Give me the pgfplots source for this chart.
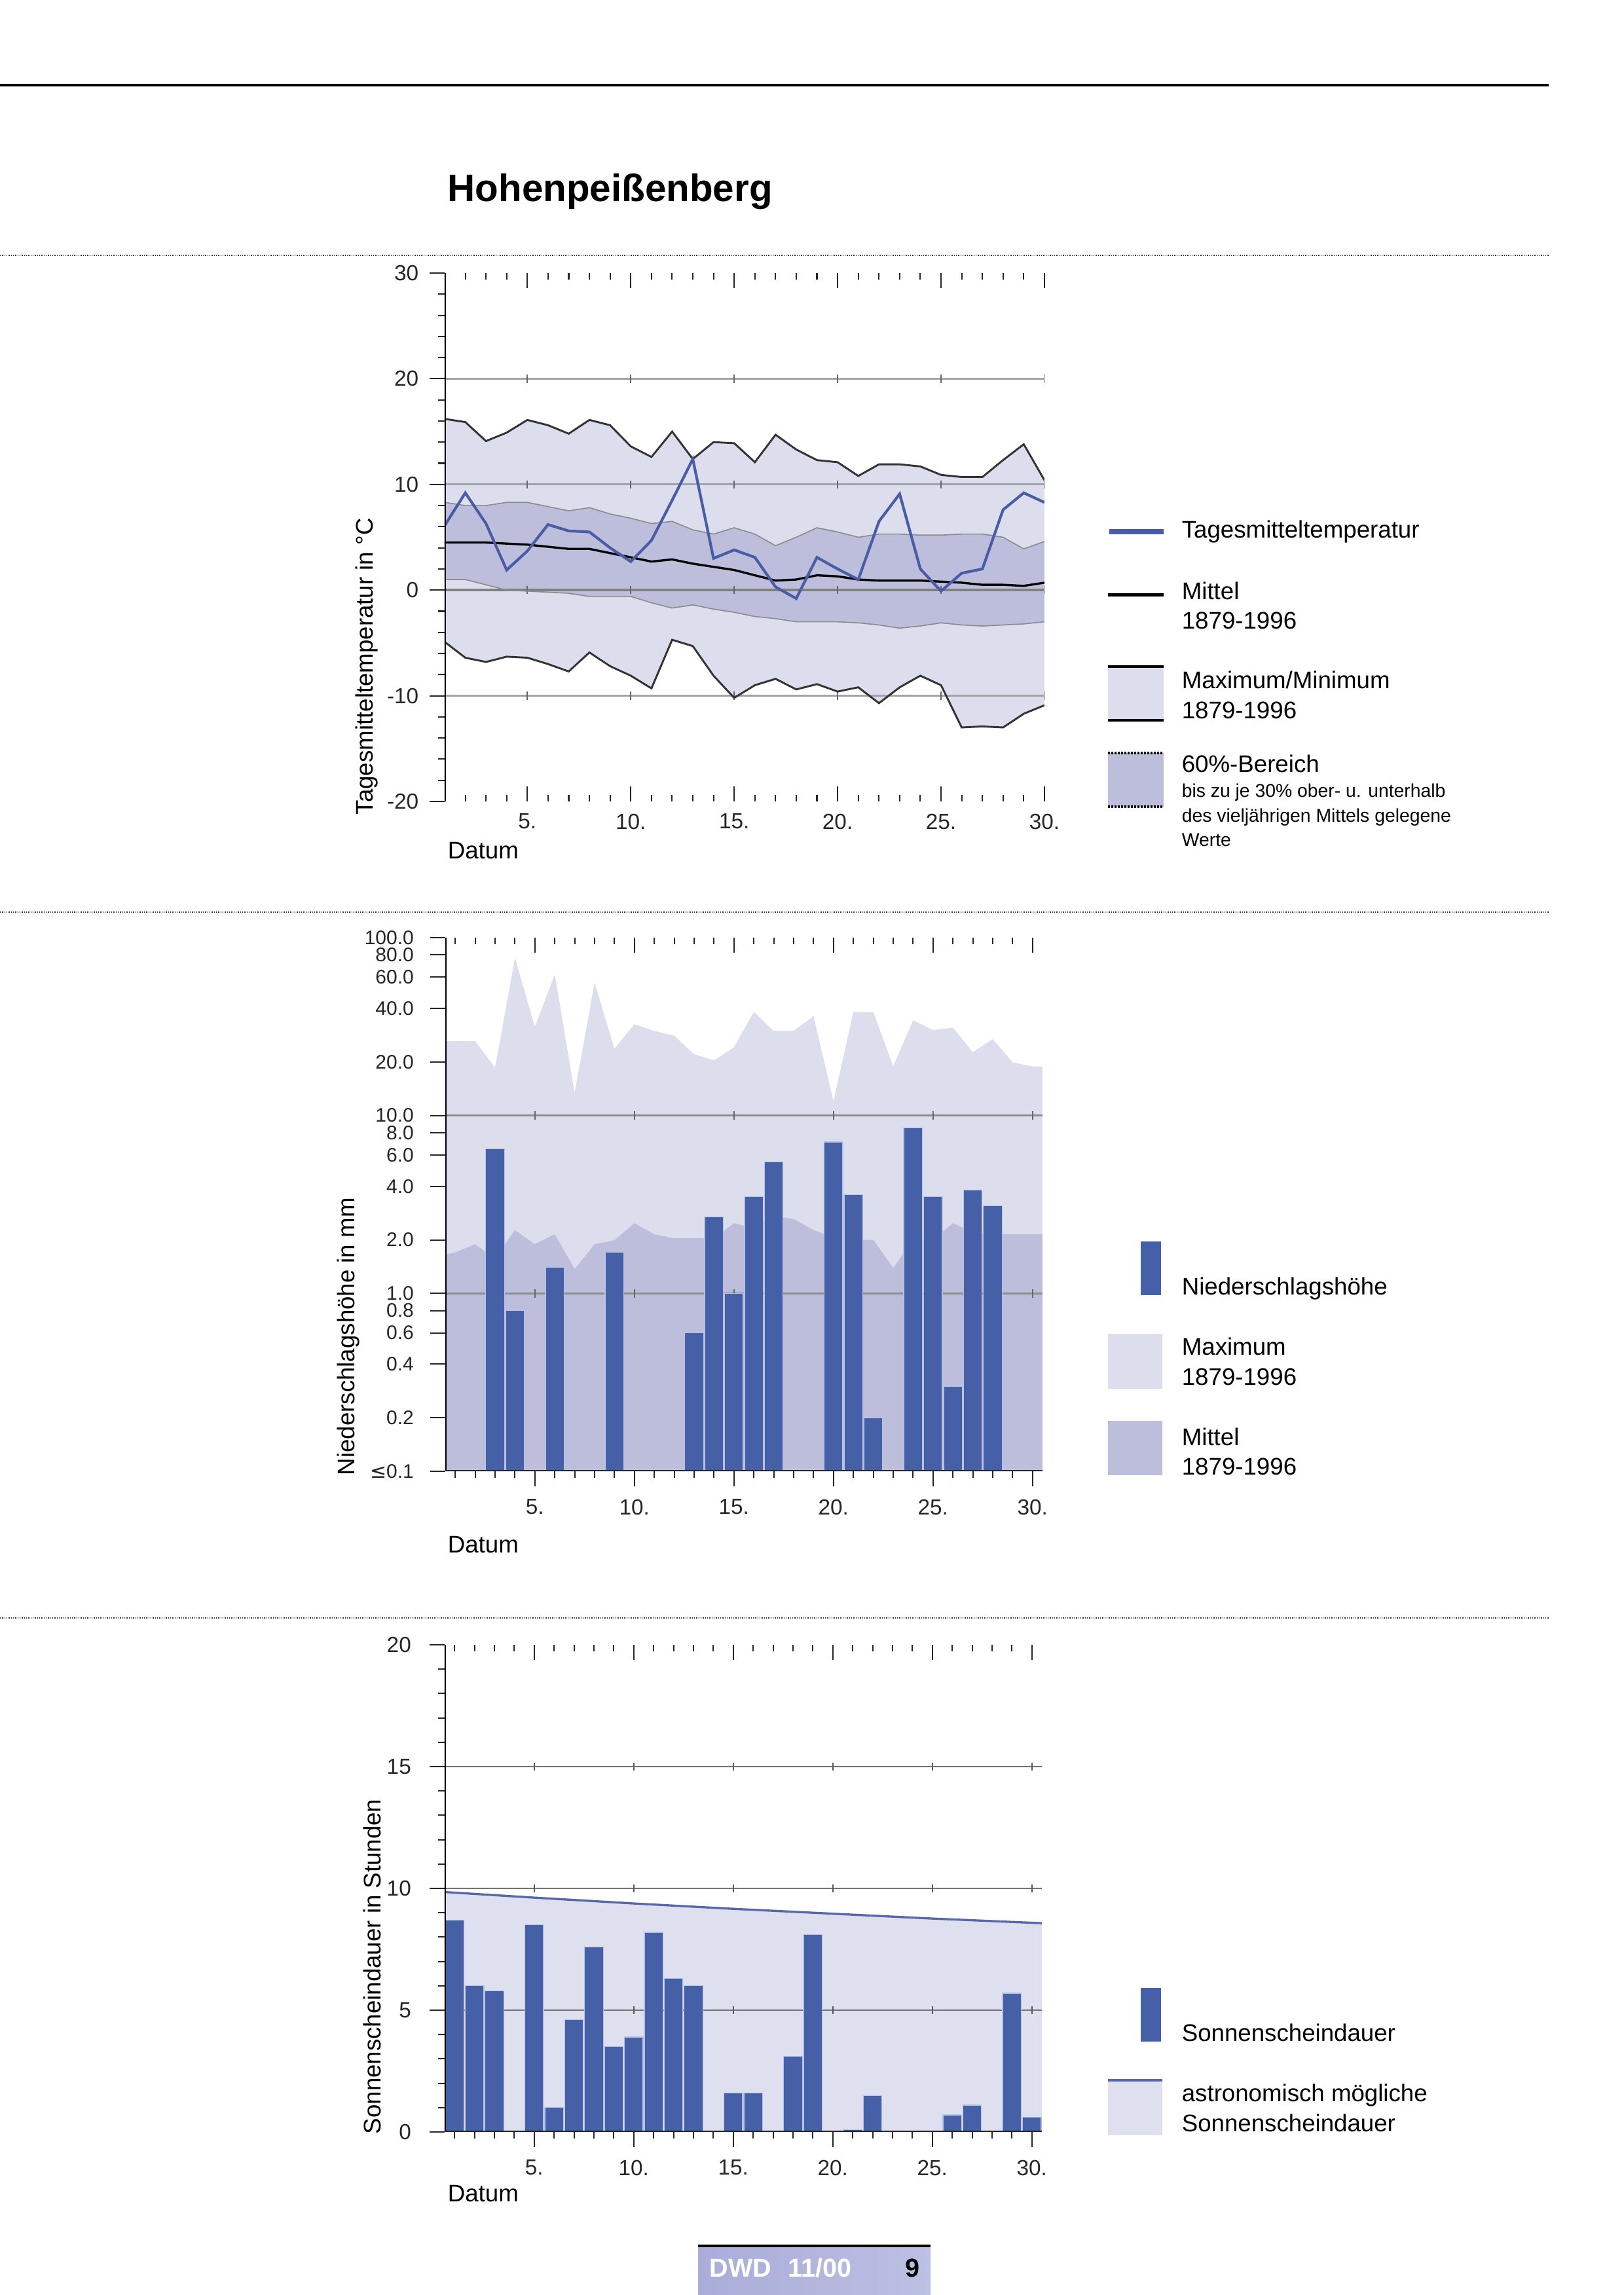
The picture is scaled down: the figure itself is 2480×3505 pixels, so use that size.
\documentclass[border=0pt]{standalone}
\usepackage{pgfplots}
\pgfplotsset{compat=1.18}
\usepackage{pgfplotstable}
\usepackage{fontspec}
\setmainfont{Liberation Sans}
\newfontfamily\dejavu{DejaVu Sans}

\definecolor{lavMax}{HTML}{DCDDED}
\definecolor{band}{HTML}{BCBEDB}
\definecolor{barcol}{HTML}{4560A6}
\definecolor{baredge}{HTML}{B8C2E6}
\definecolor{tline}{HTML}{4A5CA6}
\definecolor{sunarea}{HTML}{DFE0EF}
\definecolor{sunline}{HTML}{5866AC}
\definecolor{gridc}{HTML}{A2A2AA}
\definecolor{footL}{HTML}{A9ADD8}
\definecolor{footM}{HTML}{9297C9}
\definecolor{footR}{HTML}{BCC0E3}

\pgfplotstableread{
day max min up lo mean tm
1 16.2 -4.9 8.3 1.0 4.5 6.1
2 15.9 -6.4 8.0 1.0 4.5 9.2
3 14.1 -6.8 8.0 0.5 4.5 6.3
4 14.9 -6.3 8.3 0.0 4.4 1.9
5 16.1 -6.4 8.3 -0.1 4.3 3.7
6 15.6 -7.0 7.9 -0.2 4.1 6.2
7 14.8 -7.7 7.5 -0.3 3.9 5.6
8 16.1 -5.9 7.8 -0.6 3.9 5.5
9 15.6 -7.2 7.2 -0.6 3.5 4.0
10 13.6 -8.1 6.8 -0.6 3.1 2.7
11 12.6 -9.3 6.3 -1.2 2.7 4.7
12 15.0 -4.7 6.5 -1.7 2.9 8.5
13 12.4 -5.3 5.7 -1.4 2.5 12.4
14 14.0 -8.1 5.3 -1.8 2.2 3.0
15 13.9 -10.2 5.9 -2.1 1.9 3.8
16 12.1 -9.0 5.3 -2.5 1.4 3.1
17 14.7 -8.4 4.2 -2.7 0.9 0.3
18 13.3 -9.4 5.0 -3.0 1.0 -0.8
19 12.3 -8.9 5.9 -3.0 1.4 3.1
20 12.1 -9.6 5.5 -3.0 1.3 2.0
21 10.8 -9.2 5.0 -3.1 1.0 1.0
22 11.9 -10.7 5.3 -3.3 0.9 6.5
23 11.9 -9.2 5.3 -3.6 0.9 9.1
24 11.7 -8.1 5.2 -3.4 0.9 2.0
25 10.9 -9.0 5.2 -3.1 0.8 -0.1
26 10.7 -13.0 5.3 -3.3 0.7 1.6
27 10.7 -12.9 5.3 -3.4 0.5 2.0
28 12.3 -13.0 5.0 -3.3 0.5 7.6
29 13.8 -11.7 3.9 -3.2 0.4 9.2
30 10.4 -10.9 4.6 -3.0 0.7 8.3
}\temptab

% outline of the maximum/minimum band: maximum forwards, minimum backwards
\pgfplotstableread{
day v
1 16.2
2 15.9
3 14.1
4 14.9
5 16.1
6 15.6
7 14.8
8 16.1
9 15.6
10 13.6
11 12.6
12 15.0
13 12.4
14 14.0
15 13.9
16 12.1
17 14.7
18 13.3
19 12.3
20 12.1
21 10.8
22 11.9
23 11.9
24 11.7
25 10.9
26 10.7
27 10.7
28 12.3
29 13.8
30 10.4
30 -10.9
29 -11.7
28 -13.0
27 -12.9
26 -13.0
25 -9.0
24 -8.1
23 -9.2
22 -10.7
21 -9.2
20 -9.6
19 -8.9
18 -9.4
17 -8.4
16 -9.0
15 -10.2
14 -8.1
13 -5.3
12 -4.7
11 -9.3
10 -8.1
9 -7.2
8 -5.9
7 -7.7
6 -7.0
5 -6.4
4 -6.3
3 -6.8
2 -6.4
1 -4.9
}\tout

% outline of the 60% band: upper forwards, lower backwards
\pgfplotstableread{
day v
1 8.3
2 8.0
3 8.0
4 8.3
5 8.3
6 7.9
7 7.5
8 7.8
9 7.2
10 6.8
11 6.3
12 6.5
13 5.7
14 5.3
15 5.9
16 5.3
17 4.2
18 5.0
19 5.9
20 5.5
21 5.0
22 5.3
23 5.3
24 5.2
25 5.2
26 5.3
27 5.3
28 5.0
29 3.9
30 4.6
30 -3.0
29 -3.2
28 -3.3
27 -3.4
26 -3.3
25 -3.1
24 -3.4
23 -3.6
22 -3.3
21 -3.1
20 -3.0
19 -3.0
18 -3.0
17 -2.7
16 -2.5
15 -2.1
14 -1.8
13 -1.4
12 -1.7
11 -1.2
10 -0.6
9 -0.6
8 -0.6
7 -0.3
6 -0.2
5 -0.1
4 0.0
3 0.5
2 1.0
1 1.0
}\tin

\pgfplotstableread{
day v
0.5 26.2
1 26.2
2 26.2
3 18.6
4 76.8
5 31.5
6 62.1
7 13.4
8 55.9
9 23.7
10 32.6
11 29.9
12 28.1
13 22.1
14 20.4
15 24.2
16 38.2
17 29.9
18 29.9
19 36.2
20 12.0
21 38.2
22 38.2
23 18.9
24 34.3
25 30.2
26 31.2
27 22.7
28 26.9
29 19.9
30 18.9
30.5 18.9
30.5 0.1
0.5 0.1
}\pmax

\pgfplotstableread{
day v
0.5 1.65
1 1.70
2 1.89
3 1.57
4 2.27
5 1.89
6 2.15
7 1.37
8 1.89
9 1.99
10 2.48
11 2.15
12 2.04
13 2.04
14 2.04
15 2.48
16 2.33
17 2.73
18 2.62
19 2.27
20 2.05
21 2.00
22 2.00
23 1.39
24 1.99
25 1.99
26 2.48
27 2.21
28 2.15
29 2.15
30 2.15
30.5 2.15
30.5 0.1
0.5 0.1
}\pmit

\pgfplotstableread{
day v
1 8.7
2 6.0
3 5.8
5 8.5
6 1.0
7 4.6
8 7.6
9 3.5
10 3.9
11 8.2
12 6.3
13 6.0
15 1.6
16 1.6
18 3.1
19 8.1
21 0.1
22 1.5
26 0.7
27 1.1
29 5.7
30 0.6
}\sbars

\pgfplotstableread{
day v
0.5 9.85
5 9.62
10 9.38
15 9.16
20 8.96
25 8.76
30.5 8.57
}\astro

\pgfplotsset{
  dwd/.style={
    scale only axis,
    axis line style={draw=none},
    tick style={black!85, line width=0.5pt},
    major tick length=5.5pt, minor tick length=2.5pt,
    ticklabel style={font=\fontsize{8}{9}\selectfont, text=black!85},
    ytick pos=left,
    y tick label style={xshift=-6pt},
  }
}

% one precipitation bar on the log axis: left edge, right edge, height in mm
\newcommand{\pbar}[3]{\addplot[fill=barcol, draw=baredge, line width=0.3pt, forget plot] coordinates {(#1,0.1) (#1,#3) (#2,#3) (#2,0.1)};}

\newcommand{\lfont}{\fontsize{8.8}{10.8}\selectfont}
\newcommand{\sfont}{\fontsize{6.8}{8.5}\selectfont}

\begin{document}
\begin{tikzpicture}[x=0.24pt, y=0.24pt]
\path[use as bounding box] (0,0) rectangle (2480,-3505);

% ---------------- Temperature ----------------
\begin{axis}[dwd,
  at={(162.96pt,-293.76pt)}, anchor=south west,
  width=219.84pt, height=193.68pt,
  xmin=1, xmax=30, ymin=-20, ymax=30,
  xtick={5,10,...,30}, xticklabels={5.,10.,15.,20.,25.,30.},
  minor xtick={2,...,29},
  ytick={-20,-10,...,30}, yticklabels={-20,-10,0,10,20,30},
  minor ytick={-18,-16,...,28},
  major y tick style={xshift=-5.5pt}, minor y tick style={xshift=-2.5pt},
  x tick label style={yshift=-1pt},
]
\addplot[fill=lavMax, draw=none] table[x=day,y=v]{\tout};
\addplot[fill=band, draw=none] table[x=day,y=v]{\tin};
\draw[gridc, line width=0.8pt] (axis cs:1,20) -- (axis cs:30,20);
\draw[gridc, line width=0.8pt] (axis cs:1,10) -- (axis cs:30,10);
\draw[black!50, line width=1pt] (axis cs:1,0) -- (axis cs:30,0);
\draw[gridc, line width=0.8pt] (axis cs:1,-10) -- (axis cs:30,-10);
\pgfplotsinvokeforeach{5,10,...,30}{
  \draw[black!60, line width=0.5pt] (axis cs:#1,20) ++(0pt,-1.5pt) -- ++(0pt,3pt);
  \draw[black!60, line width=0.5pt] (axis cs:#1,10) ++(0pt,-1.5pt) -- ++(0pt,3pt);
  \draw[black!60, line width=0.5pt] (axis cs:#1,0) ++(0pt,-1.5pt) -- ++(0pt,3pt);
  \draw[black!60, line width=0.5pt] (axis cs:#1,-10) ++(0pt,-1.5pt) -- ++(0pt,3pt);
}
\addplot[black!45, line width=0.4pt] table[x=day,y=up]{\temptab};
\addplot[black!45, line width=0.4pt] table[x=day,y=lo]{\temptab};
\addplot[black!80, line width=0.7pt] table[x=day,y=max]{\temptab};
\addplot[black!80, line width=0.7pt] table[x=day,y=min]{\temptab};
\addplot[black, line width=0.8pt] table[x=day,y=mean]{\temptab};
\addplot[tline, line width=1.0pt] table[x=day,y=tm]{\temptab};
\draw[black, line width=1pt] (axis cs:1,-20) -- (axis cs:1,30);
\end{axis}

% ---------------- Precipitation ----------------
\begin{axis}[dwd,
  at={(163.2pt,-539.28pt)}, anchor=south west,
  width=218.88pt, height=195.6pt,
  ymode=log,
  xmin=0.5, xmax=30.5, ymin=0.1, ymax=100,
  xtick={5,10,...,30}, xticklabels={5.,10.,15.,20.,25.,30.},
  minor xtick={1,...,30},
  ytick={0.1,0.2,0.4,0.6,0.8,1,2,4,6,8,10,20,40,60,80,100},
  yticklabels={{\dejavu ≤}0.1,0.2,0.4,0.6,0.8,1.0,2.0,4.0,6.0,8.0,10.0,20.0,40.0,60.0,80.0,100.0},
  y tick label style={font=\fontsize{7.2}{8}\selectfont, inner sep=0.2pt, xshift=-2.4pt},
  tick align=center,
  major x tick style={yshift=-2.75pt}, minor x tick style={yshift=-1.25pt},
  major y tick style={xshift=-2.75pt},
  x tick label style={yshift=-4pt},
]
\addplot[fill=lavMax, draw=none] table[x=day,y=v]{\pmax};
\addplot[fill=band, draw=none] table[x=day,y=v]{\pmit};
\draw[black!45, line width=0.8pt] (axis cs:0.5,10) -- (axis cs:30.5,10);
\draw[black!45, line width=0.8pt] (axis cs:0.5,1) -- (axis cs:30.5,1);
\pgfplotsinvokeforeach{5,10,...,30}{
  \draw[black!60, line width=0.5pt] (axis cs:#1,10) ++(0pt,-1.5pt) -- ++(0pt,3pt);
  \draw[black!60, line width=0.5pt] (axis cs:#1,1) ++(0pt,-1.5pt) -- ++(0pt,3pt);
}
\pbar{2.53}{3.47}{6.5}
\pbar{3.53}{4.47}{0.8}
\pbar{5.53}{6.47}{1.4}
\pbar{8.53}{9.47}{1.7}
\pbar{12.53}{13.47}{0.6}
\pbar{13.53}{14.47}{2.7}
\pbar{14.53}{15.47}{1.0}
\pbar{15.53}{16.47}{3.5}
\pbar{16.53}{17.47}{5.5}
\pbar{19.53}{20.47}{7.1}
\pbar{20.53}{21.47}{3.6}
\pbar{21.53}{22.47}{0.2}
\pbar{23.53}{24.47}{8.5}
\pbar{24.53}{25.47}{3.5}
\pbar{25.53}{26.47}{0.3}
\pbar{26.53}{27.47}{3.8}
\pbar{27.53}{28.47}{3.1}
\draw[black, line width=1pt] (axis cs:0.5,0.1) -- (axis cs:0.5,100);
\draw[black!85, line width=0.8pt] (axis cs:0.5,0.1) -- (axis cs:30.5,0.1);
\end{axis}

% ---------------- Sunshine ----------------
\begin{axis}[dwd,
  at={(162.96pt,-781.44pt)}, anchor=south west,
  width=218.88pt, height=178.56pt,
  xmin=0.5, xmax=30.5, ymin=0, ymax=20,
  xtick={5,10,...,30}, xticklabels={5.,10.,15.,20.,25.,30.},
  minor xtick={1,...,30},
  ytick={0,5,...,20}, yticklabels={0,5,10,15,20},
  minor ytick={1,...,19},
  tick align=center,
  major x tick style={yshift=-2.75pt}, minor x tick style={yshift=-1.25pt},
  major y tick style={xshift=-2.75pt}, minor y tick style={xshift=-1.25pt},
  x tick label style={yshift=-4pt},
]
\addplot[fill=sunarea, draw=none] table[x=day,y=v]{\astro} \closedcycle;
\draw[black!55, line width=0.7pt] (axis cs:0.5,15) -- (axis cs:30.5,15);
\draw[black!55, line width=0.7pt] (axis cs:0.5,10) -- (axis cs:30.5,10);
\draw[black!55, line width=0.7pt] (axis cs:0.5,5) -- (axis cs:30.5,5);
\pgfplotsinvokeforeach{5,10,...,30}{
  \draw[black!65, line width=0.5pt] (axis cs:#1,15) ++(0pt,-1.5pt) -- ++(0pt,3pt);
  \draw[black!65, line width=0.5pt] (axis cs:#1,10) ++(0pt,-1.5pt) -- ++(0pt,3pt);
  \draw[black!65, line width=0.5pt] (axis cs:#1,5) ++(0pt,-1.5pt) -- ++(0pt,3pt);
}
\addplot[sunline, line width=0.8pt] table[x=day,y=v]{\astro};
\addplot[ybar, bar width=0.94, fill=barcol, draw=baredge, line width=0.3pt] table[x=day,y=v]{\sbars};
\draw[black, line width=1pt] (axis cs:0.5,0) -- (axis cs:0.5,20);
\draw[black!85, line width=0.8pt] (axis cs:0.5,0) -- (axis cs:30.5,0);
\end{axis}

\begin{scope}[yscale=-1]
% page rules and title
\draw[line width=1pt] (0,130) -- (2365,130);
\foreach \yy in {390,1393,2471}
  \draw[black!80, line width=0.35pt, dash pattern=on 0.3pt off 0.5pt] (0,\yy) -- (2365,\yy);
\node[anchor=base west, inner sep=0pt, font=\fontsize{14}{16}\selectfont\bfseries] at (683,307) {Hohenpeißenberg};

\node[rotate=90, anchor=west, inner sep=0pt, font=\lfont] at (560,1245) {Tagesmitteltemperatur in °C};
\node[anchor=west, inner sep=0pt, font=\lfont] at (683,1299) {Datum};

% temp legend
\draw[tline, line width=1.7pt] (1694,812) -- (1777,812);
\node[anchor=base west, inner sep=0pt, font=\lfont] at (1804,821) {Tagesmitteltemperatur};
\draw[black, line width=1.2pt] (1692,908) -- (1777,908);
\node[anchor=base west, inner sep=0pt, font=\lfont] at (1804,915) {Mittel};
\node[anchor=base west, inner sep=0pt, font=\lfont] at (1804,960) {1879-1996};
\fill[lavMax] (1692,1018) rectangle (1777,1100);
\draw[black, line width=0.9pt] (1692,1018) -- (1777,1018);
\draw[black, line width=0.9pt] (1692,1100) -- (1777,1100);
\node[anchor=base west, inner sep=0pt, font=\lfont] at (1804,1051) {Maximum/Minimum};
\node[anchor=base west, inner sep=0pt, font=\lfont] at (1804,1097) {1879-1996};
\fill[band] (1692,1150) rectangle (1777,1232);
\draw[black, line width=0.9pt, dash pattern=on 0.6pt off 0.6pt] (1692,1150) -- (1777,1150);
\draw[black, line width=0.9pt, dash pattern=on 0.6pt off 0.6pt] (1692,1232) -- (1777,1232);
\node[anchor=base west, inner sep=0pt, font=\lfont] at (1804,1179) {60\%-Bereich};
\node[anchor=base west, inner sep=0pt, font=\sfont] at (1804,1217) {bis zu je 30\% ober- u. unterhalb};
\node[anchor=base west, inner sep=0pt, font=\sfont] at (1804,1255) {des vieljährigen Mittels gelegene};
\node[anchor=base west, inner sep=0pt, font=\sfont] at (1804,1292) {Werte};

\node[rotate=90, anchor=west, inner sep=0pt, font=\lfont] at (532,2254) {Niederschlagshöhe in mm};
\node[anchor=west, inner sep=0pt, font=\lfont] at (683,2359) {Datum};

% precip legend
\fill[barcol] (1742,1896) rectangle (1773,1978);
\node[anchor=base west, inner sep=0pt, font=\lfont] at (1804,1977) {Niederschlagshöhe};
\fill[lavMax] (1692,2037) rectangle (1775,2121);
\node[anchor=base west, inner sep=0pt, font=\lfont] at (1804,2069) {Maximum};
\node[anchor=base west, inner sep=0pt, font=\lfont] at (1804,2115) {1879-1996};
\fill[band] (1692,2170) rectangle (1775,2253);
\node[anchor=base west, inner sep=0pt, font=\lfont] at (1804,2207) {Mittel};
\node[anchor=base west, inner sep=0pt, font=\lfont] at (1804,2252) {1879-1996};

\node[rotate=90, anchor=west, inner sep=0pt, font=\lfont] at (568,3260) {Sonnenscheindauer in Stunden};
\node[anchor=west, inner sep=0pt, font=\lfont] at (683,3350) {Datum};

% sunshine legend
\fill[barcol] (1742,3036) rectangle (1773,3118);
\node[anchor=base west, inner sep=0pt, font=\lfont] at (1804,3117) {Sonnenscheindauer};
\fill[sunarea] (1692,3175) rectangle (1775,3261);
\draw[sunline, line width=1pt] (1692,3177) -- (1775,3177);
\node[anchor=base west, inner sep=0pt, font=\lfont] at (1804,3209) {astronomisch mögliche};
\node[anchor=base west, inner sep=0pt, font=\lfont] at (1804,3255) {Sonnenscheindauer};

% footer
\shade[left color=footL, middle color=footM, right color=footR]
  (1066,3432) rectangle (1421,3505);
\draw[black, line width=1pt] (1066,3430) -- (1421,3430);
\node[anchor=base west, inner sep=0pt, text=white, font=\fontsize{9.5}{11}\selectfont\bfseries] at (1083,3477) {DWD\hspace{6pt}11/00};
\node[anchor=base west, inner sep=0pt, text=black, font=\fontsize{9.5}{11}\selectfont\bfseries] at (1382,3477) {9};
\end{scope}
\end{tikzpicture}
\end{document}
